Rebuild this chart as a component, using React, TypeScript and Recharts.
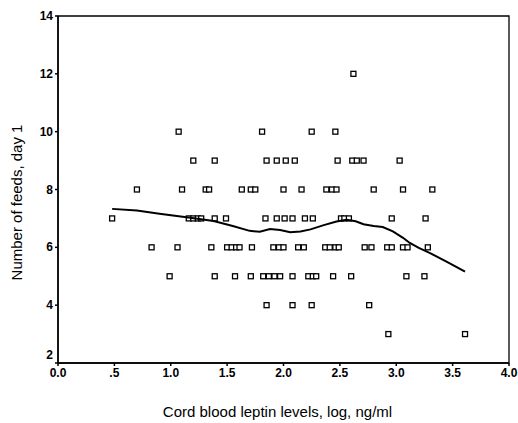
import React from 'react';
import { ScatterChart, Scatter, XAxis, YAxis, ReferenceArea } from 'recharts';

// Leptin (log, ng/ml) values grouped by number of feeds on day 1
const feeds12 = [2.62];
const feeds10 = [1.07, 1.81, 2.25, 2.46];
const feeds9 = [1.2, 1.39, 1.85, 1.94, 2.02, 2.1, 2.48, 2.61, 2.65, 2.71, 3.03];
const feeds8 = [0.7, 1.1, 1.31, 1.34, 1.63, 1.71, 1.75, 2.0, 2.16, 2.38, 2.43, 2.47, 2.8, 3.06, 3.32];
const feeds7 = [0.48, 1.16, 1.2, 1.24, 1.27, 1.39, 1.49, 1.84, 1.94, 2.01, 2.08, 2.19, 2.26, 2.51, 2.54, 2.58, 2.96, 3.26];
const feeds6 = [0.83, 1.06, 1.36, 1.5, 1.54, 1.58, 1.61, 1.72, 1.91, 1.96, 2.0, 2.13, 2.18, 2.37, 2.41, 2.46, 2.49, 2.72, 2.78, 2.92, 2.96, 3.06, 3.1, 3.28];
const feeds5 = [0.99, 1.39, 1.57, 1.71, 1.82, 1.87, 1.92, 1.97, 2.08, 2.22, 2.26, 2.29, 2.44, 2.6, 3.09, 3.25];
const feeds4 = [1.85, 2.08, 2.25, 2.76];
const feeds3 = [2.93, 3.61];

const rows: [number, number[]][] = [
  [12, feeds12], [10, feeds10], [9, feeds9], [8, feeds8], [7, feeds7],
  [6, feeds6], [5, feeds5], [4, feeds4], [3, feeds3],
];

// Smoothed (loess) curve
const curveX = [0.48, 0.7, 0.9, 1.14, 1.38, 1.55, 1.7, 1.79, 1.88, 1.97, 2.06, 2.15, 2.24, 2.35, 2.47, 2.56, 2.64, 2.71, 2.8, 2.88, 2.97, 3.06, 3.12, 3.2, 3.3, 3.45, 3.61];
const curveY = [7.33, 7.27, 7.16, 7.04, 6.91, 6.74, 6.57, 6.54, 6.63, 6.6, 6.52, 6.55, 6.62, 6.76, 6.89, 6.95, 6.9, 6.8, 6.74, 6.7, 6.55, 6.33, 6.15, 5.98, 5.8, 5.5, 5.16];

const xTicks = [0, 0.5, 1, 1.5, 2, 2.5, 3, 3.5, 4];
const yTicks = [2, 4, 6, 8, 10, 12, 14];

const points = rows.flatMap(([y, xs]) => xs.map((x) => ({ x, y })));
const curve = curveX.map((x, i) => ({ x, y: curveY[i] }));

const fmtX = (v: number) => (v === 0.5 ? '.5' : v.toFixed(1));

const font = "'Liberation Sans', Arial, sans-serif";

const SquareMark = (props: any) => {
  const { cx, cy } = props;
  if (cx == null || cy == null) return null;
  return <rect x={cx - 2.5} y={cy - 2.5} width={5} height={5} fill="#fff" stroke="#000" strokeWidth={1.3} />;
};

const YTick = (props: any) => {
  const { x, y, payload } = props;
  const lift = payload.value === 2 ? -8 : 0;
  return (
    <text x={x} y={y + lift} dy={4} textAnchor="end" fill="#000" fontSize={12} fontFamily={font} fontWeight="bold">
      {payload.value}
    </text>
  );
};

const YLabel = (props: any) => {
  const vb = props.viewBox || {};
  const x = (vb.x || 0) + 16;
  const y = vb.y + vb.height / 2 + 13;
  return (
    <text x={x} y={y} transform={`rotate(-90, ${x}, ${y})`} textAnchor="middle" dominantBaseline="central" fill="#000" fontSize={15} fontFamily={font}>
      Number of feeds, day 1
    </text>
  );
};

const XLabel = (props: any) => {
  const vb = props.viewBox || {};
  const x = vb.x + vb.width / 2 - 6;
  const y = vb.y + 48;
  return (
    <text x={x} y={y} textAnchor="middle" dominantBaseline="central" fill="#000" fontSize={15} fontFamily={font}>
      Cord blood leptin levels, log, ng/ml
    </text>
  );
};

export default function App() {
  return (
    <div style={{ position: 'absolute', left: 0, top: 0, background: '#fff' }}>
      <ScatterChart width={518} height={423} margin={{ top: 16, right: 9, bottom: 30, left: 0 }}>
        <XAxis
          type="number"
          dataKey="x"
          domain={[0, 4]}
          ticks={xTicks}
          tickFormatter={fmtX}
          stroke="#000"
          strokeWidth={1.5}
          tickSize={3}
          height={30}
          tick={{ fill: '#000', fontSize: 12, fontFamily: font, fontWeight: 'bold' }}
          label={<XLabel />}
        />
        <YAxis
          type="number"
          dataKey="y"
          domain={[2, 14]}
          ticks={yTicks}
          width={58}
          stroke="#000"
          strokeWidth={1.5}
          tickSize={3}
          tick={<YTick />}
          label={<YLabel />}
        />
        <ReferenceArea x1={0} x2={4} y1={2} y2={14} fill="none" stroke="#000" strokeWidth={1.3} ifOverflow="visible" />
        <Scatter data={points} shape={SquareMark} isAnimationActive={false} />
        <Scatter data={curve} line={{ stroke: '#000', strokeWidth: 2 }} lineType="joint" shape={() => null} isAnimationActive={false} />
      </ScatterChart>
    </div>
  );
}
